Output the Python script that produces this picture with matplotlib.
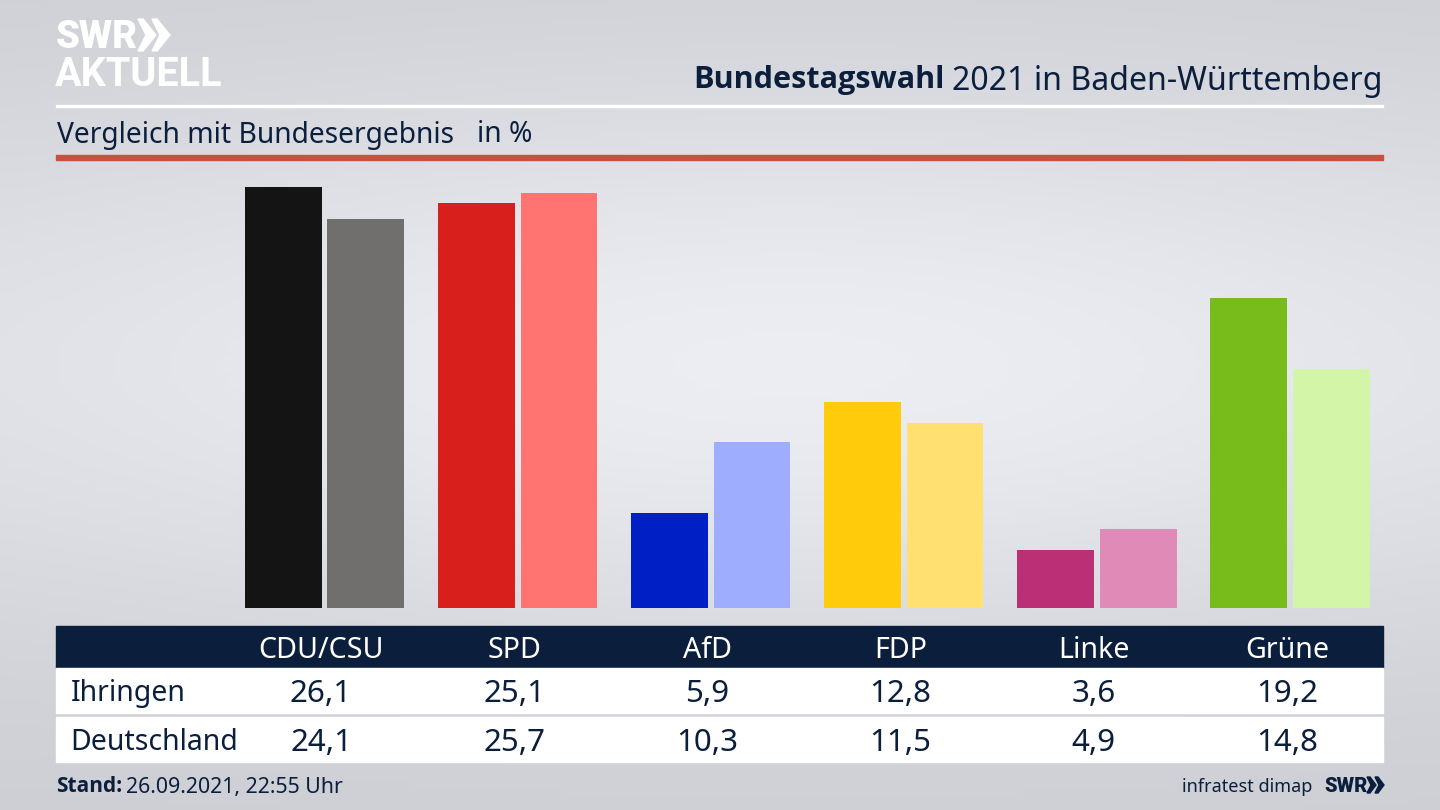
import numpy as np
import matplotlib
matplotlib.use('Agg')
import matplotlib.pyplot as plt
from matplotlib.patches import Rectangle, Polygon

plt.rcParams['font.family'] = ['Noto Sans', 'DejaVu Sans']

parties = ['CDU/CSU', 'SPD', 'AfD', 'FDP', 'Linke', 'Grüne']
ihringen = [26.1, 25.1, 5.9, 12.8, 3.6, 19.2]
deutschland = [24.1, 25.7, 10.3, 11.5, 4.9, 14.8]
colors_dark = ['#141414', '#d81f1c', '#001fc4', '#ffcb0a', '#bb2f77', '#78bc1b']
colors_light = ['#706f6d', '#ff7470', '#9fadff', '#ffe070', '#e08ab8', '#d3f5a8']
rows = ['Ihringen', 'Deutschland']

navy = '#0b1f3d'
W, H = 1440, 810
bold_font = 'Open Sans'

fig = plt.figure(figsize=(14.4, 8.1), dpi=100)

# overlay in pixel coords for the background, rules, table
bg = fig.add_axes([0, 0, 1, 1])
bg.set_xlim(0, W)
bg.set_ylim(H, 0)
bg.axis('off')

yy, xx = np.mgrid[0:1:200j, 0:1:200j]
grad = np.exp(-((yy - 0.45) / 0.36) ** 2) * (0.5 + 0.5 * np.exp(-((xx - 0.55) / 0.5) ** 2))
shade = 0.80 + 0.125 * grad
bgimg = np.dstack([shade, shade + 0.006, shade + 0.028])
bg.imshow(np.clip(bgimg, 0, 1), extent=[0, W, H, 0], aspect='auto', zorder=0)

# logo
bg.text(56, 38, 'SWR', color='white', fontsize=27.5, fontweight='black', family='Roboto', va='center', ha='left')
for x0 in (138, 152):
    bg.add_patch(Polygon([(x0, 19), (x0 + 5, 19), (x0 + 18, 35), (x0 + 5, 51), (x0, 51), (x0 + 8, 35)],
                         closed=True, color='white', zorder=3))
bg.text(55, 75, 'AKTUELL', color='white', fontsize=28.5, fontweight='bold', family='Roboto', va='center', ha='left')

# heading
bg.text(1383, 81, '2021 in Baden-Württemberg', color=navy, fontsize=23.1, va='center', ha='right')
bg.text(945, 80, 'Bundestagswahl', color=navy, fontsize=22.1, fontweight='bold', family=bold_font, va='center', ha='right')
bg.add_patch(Rectangle((56, 105), 1327, 2, color='white', zorder=2))
bg.text(57, 135, 'Vergleich mit Bundesergebnis', color=navy, fontsize=20.3, va='center', ha='left')
bg.text(477, 135, 'in %', color=navy, fontsize=20.3, va='center', ha='left')
bg.add_patch(Rectangle((56, 155), 1327, 5, color='#c9503f', zorder=2))

# table
bg.add_patch(Rectangle((56, 626), 1327, 42, color=navy, zorder=2))
bg.add_patch(Rectangle((56, 668), 1327, 45, color='white', zorder=2))
bg.add_patch(Rectangle((56, 717), 1327, 44.5, color='white', zorder=2))

# bars
ax = fig.add_axes([228 / W, 1 - 608 / H, 1158.6 / W, 421 / H])
ax.patch.set_alpha(0)
x = np.arange(len(parties))
bar_w = 0.397
off = 0.2135
ax.bar(x - off, ihringen, width=bar_w, color=colors_dark)
ax.bar(x + off, deutschland, width=bar_w, color=colors_light)
ax.set_xlim(-0.5, 5.5)
ax.set_ylim(0, max(ihringen))
ax.axis('off')

# table text follows the group centres
for i, p in enumerate(parties):
    cx = 321 + i * 193.2
    bg.text(cx, 650, p, color='white', fontsize=20.6, ha='center', va='center', zorder=4)
    bg.text(cx, 694, f'{ihringen[i]:.1f}'.replace('.', ','), color=navy, fontsize=22.5, ha='center', va='center', zorder=4)
    bg.text(cx, 743, f'{deutschland[i]:.1f}'.replace('.', ','), color=navy, fontsize=22.5, ha='center', va='center', zorder=4)
bg.text(71, 694, rows[0], color=navy, fontsize=20.5, ha='left', va='center', zorder=4)
bg.text(70, 742, rows[1], color=navy, fontsize=20.5, ha='left', va='center', zorder=4)

# footer
bg.text(56, 787, 'Stand:', color=navy, fontsize=15, fontweight='bold', family=bold_font, ha='left', va='center')
bg.text(126, 787, '26.09.2021, 22:55 Uhr', color=navy, fontsize=15.35, ha='left', va='center')
bg.text(1312, 787, 'infratest dimap', color=navy, fontsize=13, ha='right', va='center')
bg.text(1324, 786, 'SWR', color=navy, fontsize=14.5, fontweight='black', family='Roboto', ha='left', va='center')
for x0 in (1367, 1375):
    bg.add_patch(Polygon([(x0, 777), (x0 + 3, 777), (x0 + 9, 785), (x0 + 3, 793), (x0, 793), (x0 + 4, 785)],
                         closed=True, color=navy, zorder=3))

fig.savefig('out.png', dpi=100)
